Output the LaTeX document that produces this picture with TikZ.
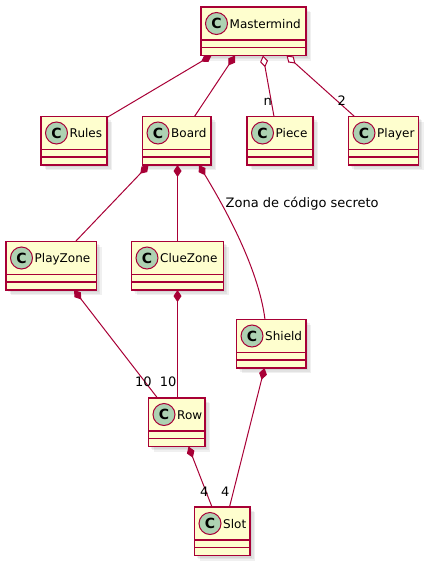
\documentclass[tikz,border=0pt]{standalone}
\usepackage{fontspec}
\setmainfont{DejaVu Sans}
\usetikzlibrary{arrows.meta}
\definecolor{umlred}{HTML}{A80036}
\definecolor{umlfill}{HTML}{FEFECE}
\definecolor{umlcirc}{HTML}{ADD1B2}
\tikzset{
  classbox/.style={draw=umlred, fill=umlfill, line width=1.3pt, rectangle, inner sep=0pt, outer sep=0pt},
  classline/.style={draw=umlred, line width=1.3pt},
  circ/.style={circle, draw=umlred, fill=umlcirc, line width=1pt, minimum size=22pt, inner sep=0pt,
    font=\fontsize{14}{14}\selectfont\bfseries},
  cname/.style={anchor=base west, inner sep=0pt, font=\fontsize{12}{14}\selectfont},
  elabel/.style={anchor=base west, inner sep=0pt, font=\fontsize{13}{15}\selectfont},
  comp/.style={draw=umlred, line width=1pt, {Diamond[length=12pt,width=8pt,fill=umlred]}-},
  aggr/.style={draw=umlred, line width=1pt, {Diamond[length=12pt,width=8pt,open,fill=white]}-},
}
\newcommand{\umlclass}[5]{%
  \foreach \s in {2,3.5,5} {\fill[black,opacity=0.06] (#3+\s,#4+\s) rectangle ++(#5,48.5);}
  \node[classbox, minimum width=#5pt, minimum height=48.5pt, anchor=north west] (#1) at (#3,#4) {};
  \draw[classline] ([yshift=-33pt]#1.north west) -- ([yshift=-33pt]#1.north east);
  \draw[classline] ([yshift=-40.5pt]#1.north west) -- ([yshift=-40.5pt]#1.north east);
  \node[circ] (#1-c) at ([xshift=15.5pt,yshift=-16.5pt]#1.north west) {C};
  \node[cname] (#1-t) at ([xshift=28.5pt,yshift=-21.3pt]#1.north west) {#2};
}
\begin{document}
\begin{tikzpicture}[x=1pt,y=-1pt]
\useasboundingbox (0,0) rectangle (428,565);
\umlclass{mm}{Mastermind}{201}{7}{105}
\umlclass{rules}{Rules}{41}{116.5}{66}
\umlclass{board}{Board}{142.5}{116.5}{68.5}
\umlclass{piece}{Piece}{247}{116.5}{66}
\umlclass{player}{Player}{348.5}{116.5}{70}
\umlclass{playzone}{PlayZone}{6}{241.5}{90.5}
\umlclass{cluezone}{ClueZone}{131.5}{241.5}{92}
\umlclass{shield}{Shield}{236.5}{319.5}{69.5}
\umlclass{row}{Row}{148.5}{398}{56.5}
\umlclass{slot}{Slot}{194.5}{507}{55.5}

% connectors
\draw[comp] ([xshift=10.5pt]mm.south west) -- ([yshift=-1pt]rules.north east);
\draw[comp] ([xshift=34pt]mm.south west) -- ([xshift=52pt]board.north west);
\draw[aggr] ([xshift=62pt]mm.south west) -- ([xshift=27pt]piece.north west);
\draw[aggr] ([xshift=85.5pt]mm.south west) -- ([xshift=6pt]player.north west);
\draw[comp] ([xshift=6pt]board.south west) -- ([xshift=69.5pt]playzone.north west);
\draw[comp] ([xshift=35pt]board.south west) -- ([xshift=46pt]cluezone.north west);
\draw[comp] ([xshift=56.5pt]board.south west) .. controls +(21,35) and +(-7,-55) .. ([xshift=28.5pt]shield.north west);
\draw[comp] ([xshift=68pt]playzone.south west) -- ([xshift=9pt]row.north west);
\draw[comp] ([xshift=46pt]cluezone.south west) -- ([xshift=29pt]row.north west);
\draw[comp] ([xshift=28pt]shield.south west) -- ([xshift=35pt]slot.north west);
\draw[comp] ([xshift=40pt]row.south west) -- ([xshift=17.5pt]slot.north west);

% labels
\node[elabel] (ln) at (263.5,105.5) {n};
\node[elabel] (l2) at (337.5,105.5) {2};
\node[elabel] (lz) at (225.5,207.5) {Zona de código secreto};
\node[elabel] (l10a) at (135,386.7) {10};
\node[elabel] (l10b) at (159.7,386.7) {10};
\node[elabel] (l4a) at (200,496) {4};
\node[elabel] (l4b) at (221,496) {4};
\end{tikzpicture}
\end{document}
